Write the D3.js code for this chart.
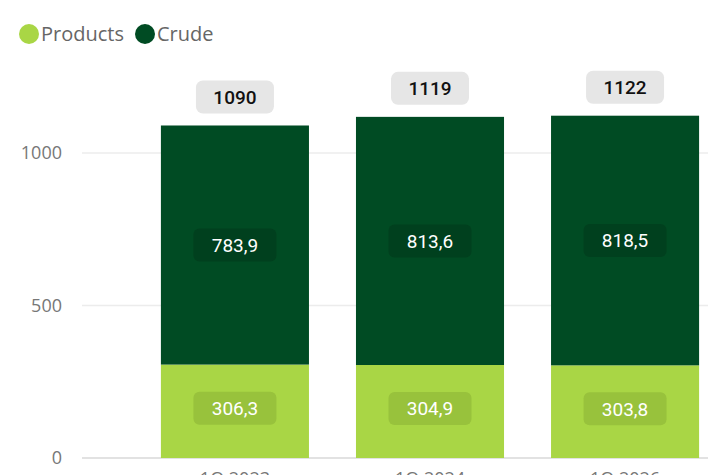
<!DOCTYPE html>
<html>
<head>
<meta charset="utf-8">
<script src="https://cdn.jsdelivr.net/npm/d3@7"></script>
<style>
  body { margin: 0; background: #fff; }
  svg { display: block; font-family: "Open Sans", "Noto Sans", sans-serif; }
</style>
</head>
<body>
<div id="chart"></div>
<script>
// data
var quarters = ["1Q 2023", "1Q 2024", "1Q 2026"];
var products = [306.3, 304.9, 303.8];
var crude = [783.9, 813.6, 818.5];
var yTicks = [0, 500, 1000];

var seriesNames = ["Products", "Crude"];
var colors = {Products: "#a9d645", Crude: "#004b23"};
var boxColors = {Products: "#98c23c", Crude: "#00401e"};

var W = 708, H = 475;

var svg = d3.select("#chart").append("svg")
  .attr("width", W)
  .attr("height", H);

var x = d3.scaleBand()
  .domain(quarters)
  .range([137.5, 722.5])
  .paddingInner(0.241)
  .paddingOuter(0.12);

var y = d3.scaleLinear()
  .domain([0, 1000])
  .range([458, 153]);

// gridlines + y labels
var grid = svg.append("g");
grid.selectAll("line")
  .data(yTicks)
  .enter().append("line")
    .attr("x1", 82).attr("x2", W)
    .attr("y1", function(d) { return y(d); })
    .attr("y2", function(d) { return y(d); })
    .attr("stroke", function(d) { return d === 0 ? "#e2e2e2" : "#ececec"; })
    .attr("stroke-width", function(d) { return d === 0 ? 2 : 1.5; });

grid.selectAll("text")
  .data(yTicks)
  .enter().append("text")
    .attr("x", 62)
    .attr("y", function(d) { return y(d); })
    .attr("dy", "0.35em")
    .attr("text-anchor", "end")
    .attr("fill", "#777")
    .style("font-size", "18px")
    .text(function(d) { return d; });

// stacked rows
var rows = quarters.map(function(q, i) {
  return {quarter: q, Products: products[i], Crude: crude[i]};
});
var stacked = d3.stack().keys(seriesNames)(rows);

var layer = svg.selectAll(".layer")
  .data(stacked)
  .enter().append("g")
    .attr("class", "layer")
    .attr("fill", function(d) { return colors[d.key]; });

layer.selectAll("rect")
  .data(function(d) { return d; })
  .enter().append("rect")
    .attr("x", function(d) { return x(d.data.quarter); })
    .attr("width", x.bandwidth())
    .attr("y", function(d) { return y(d[1]); })
    .attr("height", function(d) { return y(d[0]) - y(d[1]); });

var fmt = function(v) { return d3.format(".1f")(v).replace(".", ","); };

// value labels inside segments
stacked.forEach(function(s) {
  var g = svg.append("g");
  s.forEach(function(d) {
    var cx = x(d.data.quarter) + x.bandwidth() / 2;
    var cy = (y(d[0]) + y(d[1])) / 2 - (s.key === "Products" ? 3 : 0);
    g.append("rect")
      .attr("x", cx - 41.5).attr("y", cy - 16.5)
      .attr("width", 83).attr("height", 33)
      .attr("rx", 6)
      .attr("fill", boxColors[s.key]);
    g.append("text")
      .attr("x", cx).attr("y", cy)
      .attr("dy", "0.36em")
      .attr("text-anchor", "middle")
      .attr("fill", "#fff")
      .style("font-family", "Roboto, sans-serif")
      .style("font-size", "19px")
      .text(fmt(d.data[s.key]));
  });
});

// totals above bars
rows.forEach(function(r) {
  var total = r.Products + r.Crude;
  var cx = x(r.quarter) + x.bandwidth() / 2;
  var top = y(total) - 12;
  svg.append("rect")
    .attr("x", cx - 39).attr("y", top - 33)
    .attr("width", 78).attr("height", 33)
    .attr("rx", 7)
    .attr("fill", "#e6e6e6");
  svg.append("text")
    .attr("x", cx).attr("y", top - 16.5)
    .attr("dy", "0.36em")
    .attr("text-anchor", "middle")
    .attr("fill", "#111")
    .style("font-family", "Roboto, sans-serif")
    .style("font-weight", 500)
    .style("font-size", "19px")
    .text(Math.round(total));
});

// x labels (cut by the bottom edge)
svg.append("g").selectAll("text")
  .data(quarters)
  .enter().append("text")
    .attr("x", function(d) { return x(d) + x.bandwidth() / 2; })
    .attr("y", 485)
    .attr("text-anchor", "middle")
    .attr("fill", "#777")
    .style("font-size", "18px")
    .text(function(d) { return d; });

// legend
var legend = svg.append("g");
var lx = [29, 145];
seriesNames.forEach(function(name, i) {
  legend.append("circle")
    .attr("cx", lx[i]).attr("cy", 34).attr("r", 10)
    .attr("fill", colors[name]);
  legend.append("text")
    .attr("x", lx[i] + 12).attr("y", 34)
    .attr("dy", "0.35em")
    .attr("fill", "#666")
    .style("font-size", "20px")
    .text(name);
});
</script>
</body>
</html>
